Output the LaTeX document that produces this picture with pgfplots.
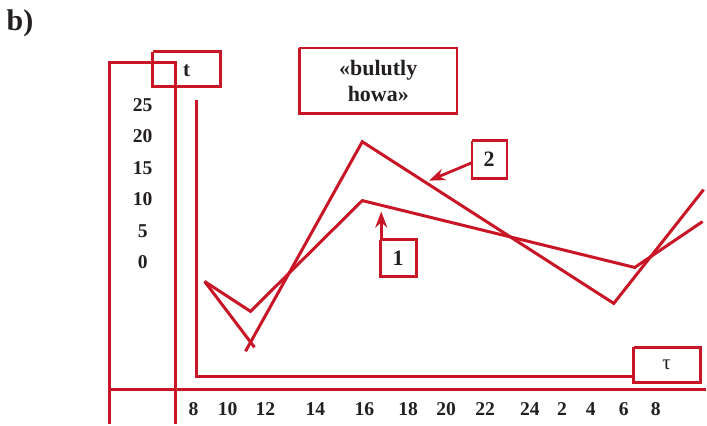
\documentclass[border=0pt]{standalone}
\usepackage{pgfplots}
\pgfplotsset{compat=1.18}
\usepackage{fontspec}
\setmainfont{Liberation Serif}
\usetikzlibrary{arrows.meta}
\definecolor{cred}{RGB}{200,22,38}
\definecolor{ctxt}{RGB}{35,31,32}
\begin{document}
\begin{tikzpicture}
\begin{axis}[x=0.5pt, y=0.5pt, xmin=0, xmax=707, ymin=0, ymax=425, y dir=reverse,
  hide axis, clip=false, scale only axis]
\path (axis cs:0,0) rectangle (axis cs:707,425);
% frame lines
\addplot[cred, line width=1.4pt, no marks] coordinates {(110,425) (110,63) (176,63) (176,425)};
\addplot[cred, line width=1.4pt, no marks] coordinates {(110,390) (707,390)};
\addplot[cred, line width=1.4pt, no marks] coordinates {(197,100) (197,377) (635,377)};
% boxes
\addplot[cred, line width=1.4pt, no marks] coordinates {(635,348) (702,348) (702,383) (635,383) (635,348)};
\addplot[cred, line width=1.4pt, no marks] coordinates {(153,52) (221,52) (221,87) (153,87) (153,52)};
\addplot[cred, line width=1.4pt, no marks] coordinates {(300,48) (458,48) (458,114) (300,114) (300,48)};
\addplot[cred, line width=1.4pt, no marks] coordinates {(473,141) (508,141) (508,179) (473,179) (473,141)};
\addplot[cred, line width=1.4pt, no marks] coordinates {(381,240) (417,240) (417,277) (381,277) (381,240)};
% data lines
\addplot[cred, line width=1.5pt, no marks, line join=miter] coordinates {(205,282) (251,312) (363,201) (636,268) (704,222)};
\addplot[cred, line width=1.5pt, no marks] coordinates {(205,282) (255,348)};
\addplot[cred, line width=1.5pt, no marks, line join=miter] coordinates {(246,352) (363,142) (615,304) (705,190)};
% arrows
\draw[cred, line width=1.4pt, -{Stealth[length=8pt,width=6pt]}] (axis cs:473,163) -- (axis cs:430,181);
\draw[cred, line width=1.4pt, -{Stealth[length=8pt,width=6pt]}] (axis cs:382,240) -- (axis cs:382,212);
% texts
\node[ctxt, font=\fontsize{15}{17}\selectfont\bfseries] at (axis cs:20,23) {b)};
\node[ctxt, font=\fontsize{10.5}{12}\selectfont\bfseries] at (axis cs:187,71) {t};
\node[ctxt, font=\fontsize{10.5}{12}\selectfont] at (axis cs:668,366) {τ};
\node[ctxt, font=\fontsize{11}{13}\selectfont\bfseries, align=center] at (axis cs:379,81) {«bulutly\\howa»};
\node[ctxt, font=\fontsize{11}{13}\selectfont\bfseries] at (axis cs:490,160) {2};
\node[ctxt, font=\fontsize{11}{13}\selectfont\bfseries] at (axis cs:399,259) {1};
% y labels
\node[ctxt, font=\fontsize{9.8}{11}\selectfont\bfseries] at (axis cs:143,105) {25};
\node[ctxt, font=\fontsize{9.8}{11}\selectfont\bfseries] at (axis cs:143,136) {20};
\node[ctxt, font=\fontsize{9.8}{11}\selectfont\bfseries] at (axis cs:143,168) {15};
\node[ctxt, font=\fontsize{9.8}{11}\selectfont\bfseries] at (axis cs:143,199) {10};
\node[ctxt, font=\fontsize{9.8}{11}\selectfont\bfseries] at (axis cs:143,232) {5};
\node[ctxt, font=\fontsize{9.8}{11}\selectfont\bfseries] at (axis cs:143,263) {0};
% x labels
\node[ctxt, font=\fontsize{9.8}{11}\selectfont\bfseries] at (axis cs:194,410) {8};
\node[ctxt, font=\fontsize{9.8}{11}\selectfont\bfseries] at (axis cs:228,410) {10};
\node[ctxt, font=\fontsize{9.8}{11}\selectfont\bfseries] at (axis cs:266,410) {12};
\node[ctxt, font=\fontsize{9.8}{11}\selectfont\bfseries] at (axis cs:316,410) {14};
\node[ctxt, font=\fontsize{9.8}{11}\selectfont\bfseries] at (axis cs:365,410) {16};
\node[ctxt, font=\fontsize{9.8}{11}\selectfont\bfseries] at (axis cs:409,410) {18};
\node[ctxt, font=\fontsize{9.8}{11}\selectfont\bfseries] at (axis cs:447,410) {20};
\node[ctxt, font=\fontsize{9.8}{11}\selectfont\bfseries] at (axis cs:486,410) {22};
\node[ctxt, font=\fontsize{9.8}{11}\selectfont\bfseries] at (axis cs:531,410) {24};
\node[ctxt, font=\fontsize{9.8}{11}\selectfont\bfseries] at (axis cs:563,410) {2};
\node[ctxt, font=\fontsize{9.8}{11}\selectfont\bfseries] at (axis cs:592,410) {4};
\node[ctxt, font=\fontsize{9.8}{11}\selectfont\bfseries] at (axis cs:625,410) {6};
\node[ctxt, font=\fontsize{9.8}{11}\selectfont\bfseries] at (axis cs:657,410) {8};
\end{axis}
\end{tikzpicture}
\end{document}
